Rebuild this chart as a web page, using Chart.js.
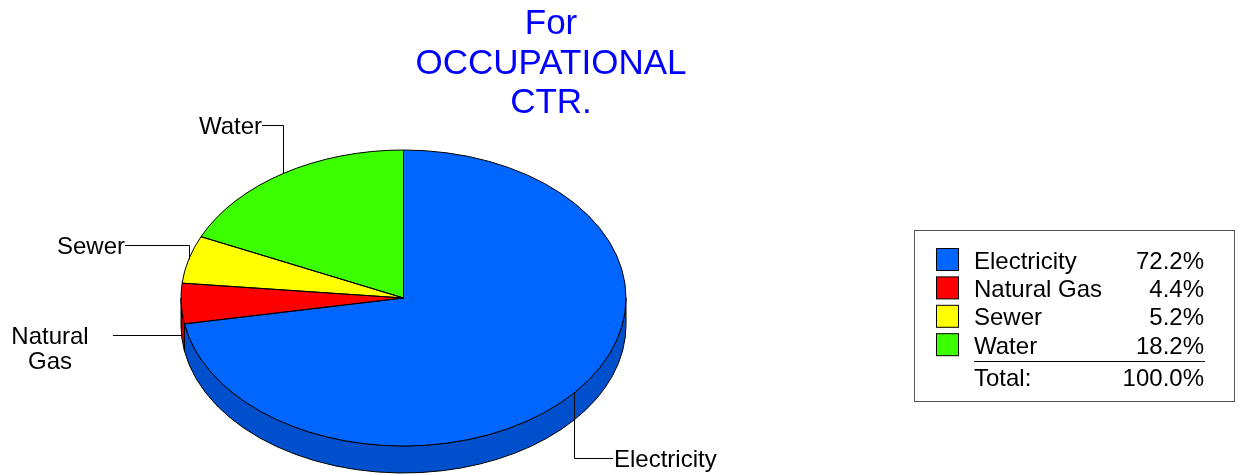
<!DOCTYPE html>
<html>
<head>
<meta charset="utf-8">
<title>Utility cost share</title>
<script src="https://cdn.jsdelivr.net/npm/chart.js@4.4.1/dist/chart.umd.min.js"></script>
<style>
  html, body { margin: 0; padding: 0; background: #ffffff; }
  #wrap { width: 1241px; height: 475px; position: relative; }
</style>
</head>
<body>
<div id="wrap"><canvas id="c"></canvas></div>
<script>
// ---- data ----
const categories = ['Electricity', 'Natural Gas', 'Sewer', 'Water'];
const shares = [72.2, 4.4, 5.2, 18.2];
const titleLines = ['For', 'OCCUPATIONAL', 'CTR.'];
const totalLabel = 'Total:';

// ---- styling ----
const topColors = ['#0066FF', '#FF0000', '#FFFF00', '#3CFF00'];
const sideColors = ['#004FCC', '#C80000', '#CCCC00', '#30CC00'];
const FONT = '"Liberation Sans", Arial, Helvetica, sans-serif';
const TILT = 148 / 222.5;   // vertical squash of the pie disc
const DEPTH = 27;           // thickness of the pie wall in px

// callout placement: leader elbow height, where the horizontal leader stops, text anchor
const callouts = [
  { y: 458, lineX: 613, textX: 614, align: 'left' },
  { y: 335, lineX: 113, textX: 50,  align: 'center', wrap: true },
  { y: 245, lineX: 125, textX: 125, align: 'right' },
  { y: 125, lineX: 262, textX: 262, align: 'right' }
];

function arcProps(arc) {
  return arc.getProps(['x', 'y', 'startAngle', 'endAngle', 'outerRadius'], true);
}

const pie3d = {
  id: 'pie3d',
  beforeDatasetsDraw(chart) {
    const ctx = chart.ctx;
    const arcs = chart.getDatasetMeta(0).data;
    // wall of the disc: only the front half (angles 0..PI) faces the viewer
    arcs.forEach((arc, i) => {
      const p = arcProps(arc);
      const a1 = Math.max(p.startAngle, 0);
      const a2 = Math.min(p.endAngle, Math.PI);
      if (a2 <= a1) return;
      const ry = p.outerRadius * TILT;
      ctx.save();
      ctx.beginPath();
      ctx.ellipse(p.x, p.y, p.outerRadius, ry, 0, a1, a2);
      ctx.ellipse(p.x, p.y + DEPTH, p.outerRadius, ry, 0, a2, a1, true);
      ctx.closePath();
      ctx.fillStyle = sideColors[i];
      ctx.fill();
      ctx.lineWidth = 1;
      ctx.strokeStyle = '#000000';
      ctx.stroke();
      ctx.restore();
    });
    // squash the top face into an ellipse around the pie centre
    const cy = arcs[0].y;
    ctx.save();
    ctx.translate(0, cy);
    ctx.scale(1, TILT);
    ctx.translate(0, -cy);
  },
  afterDatasetsDraw(chart) {
    const ctx = chart.ctx;
    ctx.restore();
    const arcs = chart.getDatasetMeta(0).data;

    // slice outlines on the top face
    ctx.save();
    ctx.lineWidth = 1;
    ctx.strokeStyle = '#000000';
    arcs.forEach(arc => {
      const p = arcProps(arc);
      ctx.beginPath();
      ctx.moveTo(p.x, p.y);
      ctx.ellipse(p.x, p.y, p.outerRadius, p.outerRadius * TILT, 0, p.startAngle, p.endAngle);
      ctx.closePath();
      ctx.stroke();
    });
    ctx.restore();

    // callouts with elbow leaders
    ctx.save();
    ctx.font = '24px ' + FONT;
    ctx.fillStyle = '#000000';
    ctx.strokeStyle = '#000000';
    ctx.lineWidth = 1;
    arcs.forEach((arc, i) => {
      const p = arcProps(arc);
      const c = callouts[i];
      const mid = (p.startAngle + p.endAngle) / 2;
      const ax = Math.round(p.x + p.outerRadius * Math.cos(mid)) + 0.5;
      const ay = p.y + p.outerRadius * TILT * Math.sin(mid);
      ctx.beginPath();
      ctx.moveTo(ax, ay);
      ctx.lineTo(ax, c.y + 0.5);
      ctx.lineTo(c.lineX, c.y + 0.5);
      ctx.stroke();
      ctx.textAlign = c.align;
      ctx.textBaseline = 'alphabetic';
      const lines = c.wrap ? categories[i].split(' ') : [categories[i]];
      lines.forEach((t, k) => ctx.fillText(t, c.textX, c.y + 9 + k * 25));
    });
    ctx.restore();
  },
  afterDraw(chart) {
    const ctx = chart.ctx;
    ctx.save();
    // title
    ctx.font = '35px ' + FONT;
    ctx.fillStyle = '#0000FF';
    ctx.textAlign = 'center';
    ctx.textBaseline = 'alphabetic';
    titleLines.forEach((t, k) => ctx.fillText(t, 551, 34 + k * 39.5));

    // legend box
    ctx.strokeStyle = '#555555';
    ctx.lineWidth = 1;
    ctx.strokeRect(914.5, 230.5, 320, 171);
    ctx.font = '24px ' + FONT;
    const values = chart.data.datasets[0].data;
    const bgs = chart.data.datasets[0].backgroundColor;
    values.forEach((v, i) => {
      const base = 268.5 + i * 28.4;
      ctx.fillStyle = bgs[i];
      ctx.fillRect(936.5, base - 20, 22, 22);
      ctx.strokeStyle = '#000000';
      ctx.strokeRect(936.5, base - 20, 22, 22);
      ctx.fillStyle = '#000000';
      ctx.textAlign = 'left';
      ctx.fillText(chart.data.labels[i], 974, base);
      ctx.textAlign = 'right';
      ctx.fillText(v.toFixed(1) + '%', 1204, base);
    });
    ctx.beginPath();
    ctx.moveTo(974, 361.5);
    ctx.lineTo(1205, 361.5);
    ctx.strokeStyle = '#000000';
    ctx.stroke();
    const total = values.reduce((s, v) => s + v, 0);
    ctx.fillStyle = '#000000';
    ctx.textAlign = 'left';
    ctx.fillText(totalLabel, 974, 386);
    ctx.textAlign = 'right';
    ctx.fillText(total.toFixed(1) + '%', 1204, 386);
    ctx.restore();
  }
};

new Chart(document.getElementById('c'), {
  type: 'pie',
  data: {
    labels: categories,
    datasets: [{
      data: shares,
      backgroundColor: topColors,
      borderWidth: 0,
      radius: 222.5,
      clip: false
    }]
  },
  options: {
    responsive: true,
    maintainAspectRatio: false,
    animation: false,
    events: [],
    layout: { padding: { left: 0, right: 434, top: 121, bottom: 0 } },
    plugins: {
      legend: { display: false },
      tooltip: { enabled: false },
      title: { display: false }
    }
  },
  plugins: [pie3d]
});
</script>
</body>
</html>
